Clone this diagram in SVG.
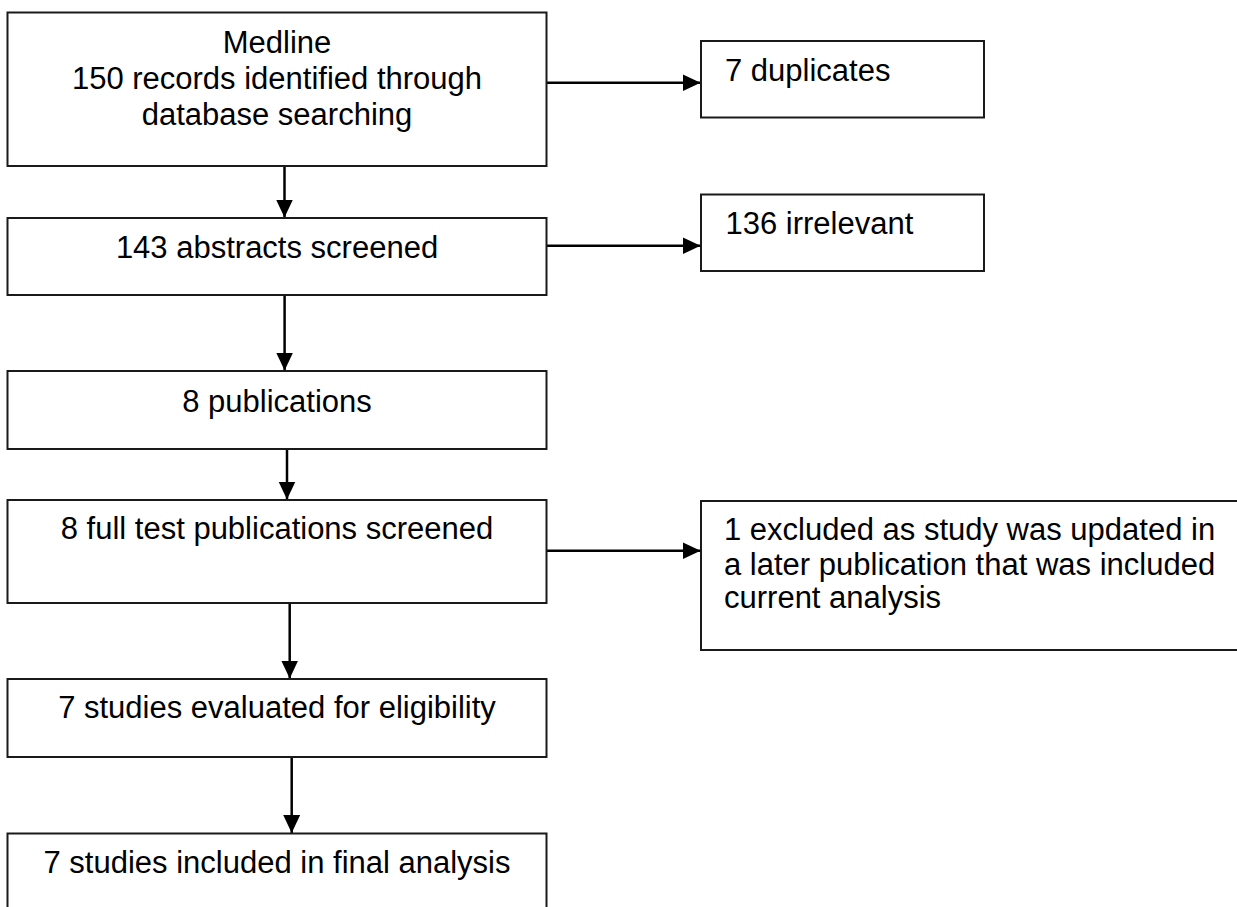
<svg xmlns="http://www.w3.org/2000/svg" width="1237" height="907" viewBox="0 0 1237 907">
  <defs>
    <style>
      .box { fill: #ffffff; stroke: #1a1a1a; stroke-width: 2; }
      .lbl { font-family: "Liberation Sans", Arial, sans-serif; font-size: 31px; fill: #000000; }
      .c { text-anchor: middle; }
      .conn { stroke: #000000; stroke-width: 2.5; fill: none; marker-end: url(#arrow); }
    </style>
    <marker id="arrow" markerUnits="userSpaceOnUse" markerWidth="18" markerHeight="18" viewBox="0 0 17 16" refX="17" refY="8" orient="auto">
      <path d="M0,0 L17,8 L0,16 Z" fill="#000000"/>
    </marker>
  </defs>
  <rect width="1237" height="907" fill="#ffffff"/>

  <g id="connectors">
    <line class="conn" x1="284.5" y1="166" x2="284.5" y2="217.5"/>
    <line class="conn" x1="284.6" y1="295" x2="284.6" y2="370.5"/>
    <line class="conn" x1="287" y1="449" x2="287" y2="499.5"/>
    <line class="conn" x1="289.7" y1="603" x2="289.7" y2="678.5"/>
    <line class="conn" x1="291.7" y1="757" x2="291.7" y2="833"/>
    <line class="conn" x1="547" y1="82.7" x2="700.5" y2="82.7"/>
    <line class="conn" x1="547" y1="245.7" x2="700.5" y2="245.7"/>
    <line class="conn" x1="547" y1="550.7" x2="700.5" y2="550.7"/>
  </g>

  <g id="node-medline">
    <rect class="box" x="7.5" y="12.5" width="539" height="153.5"/>
    <text class="lbl c" x="277" y="53">Medline</text>
    <text class="lbl c" x="277" y="89">150 records identified through</text>
    <text class="lbl c" x="277" y="125">database searching</text>
  </g>

  <g id="node-abstracts">
    <rect class="box" x="7.5" y="218" width="539" height="77"/>
    <text class="lbl c" x="277" y="258">143 abstracts screened</text>
  </g>

  <g id="node-publications">
    <rect class="box" x="7.5" y="371" width="539" height="78"/>
    <text class="lbl c" x="277" y="412">8 publications</text>
  </g>

  <g id="node-fulltext">
    <rect class="box" x="7.5" y="500" width="539" height="103"/>
    <text class="lbl c" x="277" y="539">8 full test publications screened</text>
  </g>

  <g id="node-eligibility">
    <rect class="box" x="7.5" y="679" width="539" height="78"/>
    <text class="lbl c" x="277" y="718">7 studies evaluated for eligibility</text>
  </g>

  <g id="node-included">
    <rect class="box" x="7.5" y="833.5" width="539" height="90"/>
    <text class="lbl c" x="277" y="873">7 studies included in final analysis</text>
  </g>

  <g id="node-duplicates">
    <rect class="box" x="701" y="41" width="283" height="76.5"/>
    <text class="lbl" x="725" y="80.5">7 duplicates</text>
  </g>

  <g id="node-irrelevant">
    <rect class="box" x="701" y="194.5" width="283" height="76.5"/>
    <text class="lbl" x="725.5" y="234">136 irrelevant</text>
  </g>

  <g id="node-excluded">
    <rect class="box" x="701" y="501" width="560" height="149"/>
    <text class="lbl" x="724" y="540">1 excluded as study was updated in</text>
    <text class="lbl" x="724" y="575">a later publication that was included</text>
    <text class="lbl" x="724" y="608">current analysis</text>
  </g>
</svg>
